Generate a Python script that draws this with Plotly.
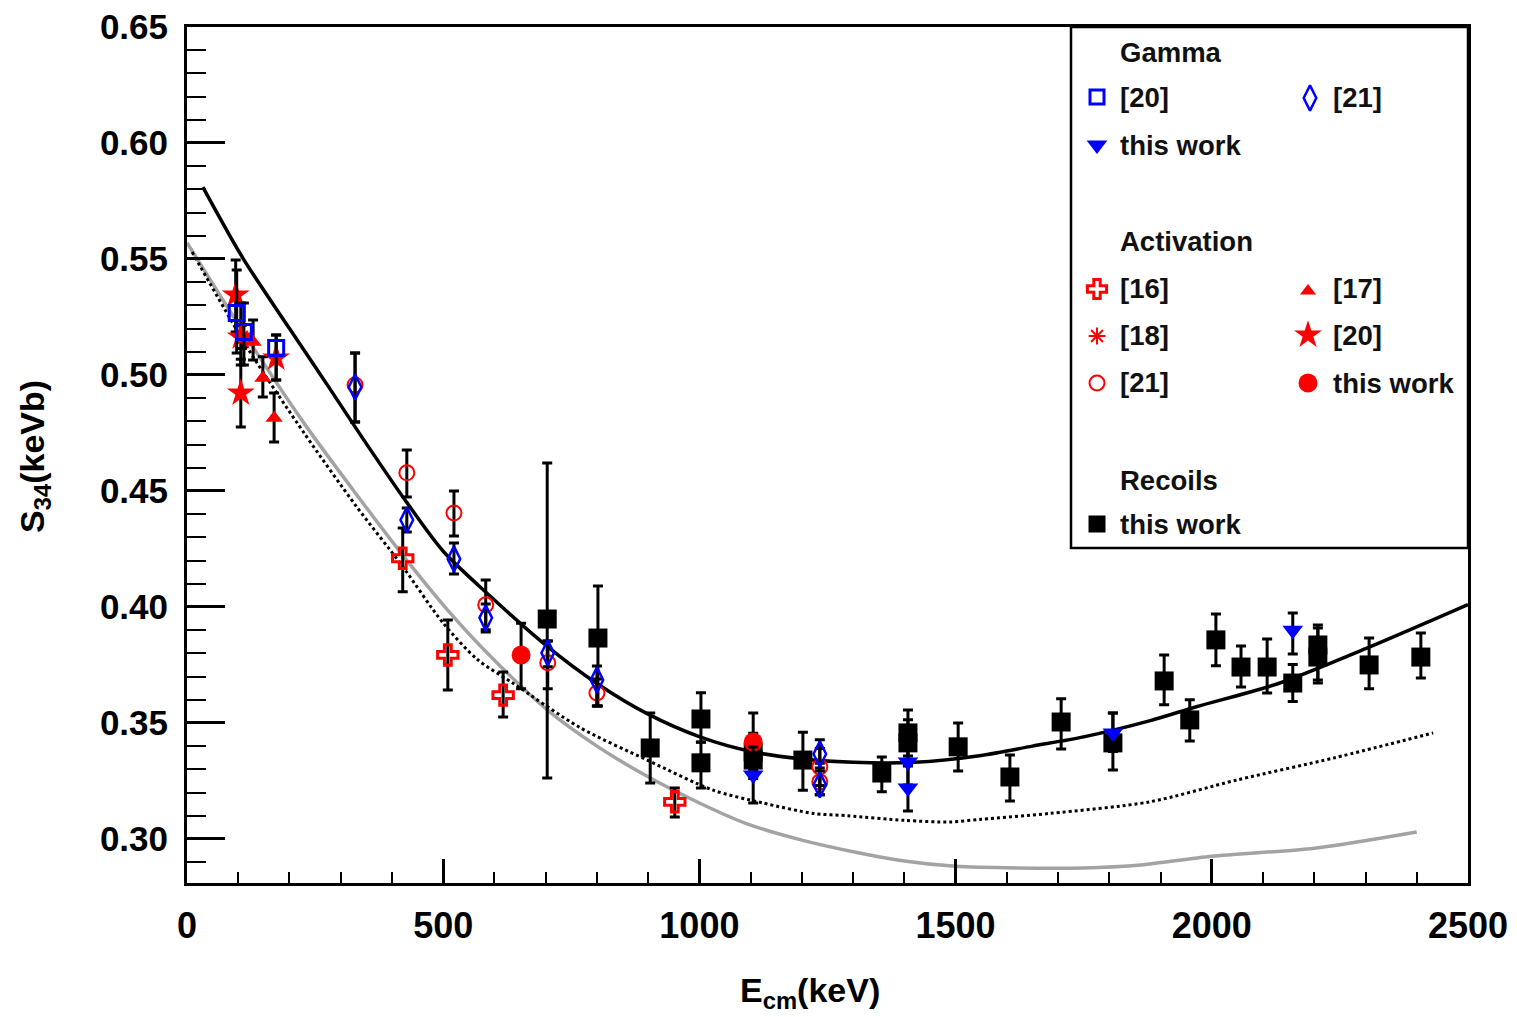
import plotly.graph_objects as go

# ---------------- data ----------------
# theory curves
fit_E = [31, 109, 200, 279, 342, 429, 500, 585, 703, 800, 898, 1001, 1105, 1200,
         1300, 1420, 1550, 1650, 1750, 1880, 1970, 2130, 2300, 2500]
fit_S = [0.581, 0.5504, 0.520, 0.494, 0.473, 0.445, 0.424, 0.406, 0.383, 0.367,
         0.354, 0.344, 0.3375, 0.3345, 0.333, 0.333, 0.336, 0.340, 0.344, 0.351, 0.357,
         0.367, 0.382, 0.401]

gray_E = [0, 120, 230, 330, 419, 507, 585, 703, 800, 898, 1000, 1093, 1200, 1300,
          1400, 1500, 1620, 1750, 1850, 2000, 2200, 2400]
gray_S = [0.557, 0.515, 0.4787, 0.4487, 0.4229, 0.3991, 0.3804, 0.3556, 0.340,
          0.327, 0.3155, 0.3065, 0.2995, 0.2945, 0.2905, 0.2882, 0.2875, 0.2875, 0.2885,
          0.2925, 0.2960, 0.3030]

dot_E = [10, 120, 230, 330, 419, 500, 566, 637, 767, 898, 1027, 1124, 1222, 1290, 1400,
         1489, 1550, 1684, 1879, 2049, 2240, 2432]
dot_S = [0.553, 0.511, 0.4745, 0.4435, 0.418, 0.393, 0.3775, 0.367, 0.348, 0.334, 0.321,
         0.3155, 0.311, 0.3100, 0.3080, 0.3073, 0.3085, 0.311, 0.316, 0.3254, 0.335, 0.3457]

# Gamma [20]
g20_E = [97, 111, 174]
g20_S = [0.5267, 0.5185, 0.5116]
g20_up = [0.0186, 0.0125, 0.0056]
g20_dn = [0.0172, 0.0142, 0.0138]

# Gamma [21]
g21_E = [328, 429, 521, 583, 704, 800, 1235, 1235]
g21_S = [0.4948, 0.4375, 0.4207, 0.3953, 0.3802, 0.3685, 0.3366, 0.3233]
g21_up = [0.0147, 0.0052, 0.0069, 0.0060, 0.0051, 0.0060, 0.0061, 0.0060]
g21_dn = [0.0151, 0.0052, 0.0065, 0.0061, 0.0060, 0.0112, 0.0060, 0.0043]

# Gamma this work
gtw_E = [1105, 1407, 1407, 1807, 2158]
gtw_S = [0.3276, 0.3332, 0.3220, 0.3457, 0.3900]
gtw_up = [0.0120, 0.0100, 0.0100, 0.0086, 0.0074]
gtw_dn = [0.0121, 0.0100, 0.0100, 0.0080, 0.0103]

# Activation [16]
a16_E = [421, 509, 617, 952]
a16_S = [0.4210, 0.3793, 0.3620, 0.3160]
a16_up = [0.0130, 0.0151, 0.0100, 0.0060]
a16_dn = [0.0145, 0.0151, 0.0094, 0.0065]

# Activation [17]
a17_E = [129, 148, 170]
a17_S = [0.5142, 0.4987, 0.4815]
a17_up = [0.0095, 0.0091, 0.0107]
a17_dn = [0.0077, 0.0082, 0.0104]

# Activation [18]
a18_E = [107]
a18_S = [0.5164]
a18_up = [0.0050]
a18_dn = [0.0050]

# Activation [20]
a20_E = [95, 105, 105, 174]
a20_S = [0.5345, 0.5164, 0.4922, 0.5073]
a20_up = [0.0151, 0.0146, 0.0146, 0.0099]
a20_dn = [0.0160, 0.0121, 0.0146, 0.0095]

# Activation [21]
a21_E = [328, 429, 521, 583, 704, 800, 1235, 1235]
a21_S = [0.4957, 0.4578, 0.4405, 0.4009, 0.3759, 0.3629, 0.3310, 0.3246]
a21_up = [0.0138, 0.0099, 0.0095, 0.0107, 0.0094, 0.0060, 0.0080, 0.0080]
a21_dn = [0.0160, 0.0104, 0.0099, 0.0107, 0.0112, 0.0056, 0.0080, 0.0056]

# Activation this work
atw_E = [652, 1105]
atw_S = [0.3793, 0.3418]
atw_up = [0.0137, 0.0125]
atw_dn = [0.0146, 0.0080]

# Recoils this work
rec_E = [703, 802, 904, 1003, 1003, 1105, 1105, 1202, 1356, 1407, 1407, 1505, 1606,
         1706, 1807, 1907, 1957, 2008, 2057, 2108, 2158, 2207, 2207, 2307, 2408]
rec_S = [0.3948, 0.3866, 0.3392, 0.3517, 0.3328, 0.3375, 0.3340, 0.3340, 0.3284,
         0.3457, 0.3414, 0.3397, 0.3267, 0.3504, 0.3414, 0.3681, 0.3513, 0.3858,
         0.3741, 0.3741, 0.3672, 0.3836, 0.3784, 0.3750, 0.3784]
rec_up = [0.0672, 0.0224, 0.0151, 0.0113, 0.0090, 0.0080, 0.0080, 0.0120, 0.0069,
          0.0099, 0.0100, 0.0103, 0.0095, 0.0100, 0.0129, 0.0112, 0.0087, 0.0112,
          0.0091, 0.0121, 0.0080, 0.0086, 0.0125, 0.0116, 0.0104]
rec_dn = [0.0685, 0.0293, 0.0151, 0.0100, 0.0108, 0.0080, 0.0080, 0.0130, 0.0081,
          0.0100, 0.0100, 0.0104, 0.0103, 0.0116, 0.0117, 0.0103, 0.0091, 0.0112,
          0.0086, 0.0112, 0.0080, 0.0151, 0.0112, 0.0103, 0.0090]

x_ticks = [0, 500, 1000, 1500, 2000, 2500]
y_ticks = [0.30, 0.35, 0.40, 0.45, 0.50, 0.55, 0.60, 0.65]

# ---------------- style ----------------
FONT = "Liberation Sans, Arial, sans-serif"
RED = "#ff0000"
BLUE = "#0000ff"
W, H = 1517, 1017
L, R, T, B = 187, 1468, 27, 883

fig = go.Figure()

fig.add_trace(go.Scatter(x=gray_E, y=gray_S, mode="lines", line=dict(color="#a3a3a3", width=3.5, shape="spline", smoothing=0.8), hoverinfo="skip"))
fig.add_trace(go.Scatter(x=dot_E, y=dot_S, mode="lines", line=dict(color="black", width=3, dash="dot", shape="spline", smoothing=0.8), hoverinfo="skip"))
fig.add_trace(go.Scatter(x=fit_E, y=fit_S, mode="lines", line=dict(color="black", width=3.5, shape="spline", smoothing=0.8), hoverinfo="skip"))


def pts(E, S, up, dn, symbol, color, size, lw=0, lc=None):
    return go.Scatter(
        x=E, y=S, mode="markers",
        marker=dict(symbol=symbol, color=color, size=size,
                    line=dict(width=lw, color=lc if lc else color)),
        error_y=dict(type="data", symmetric=False, array=up, arrayminus=dn,
                     color="black", thickness=3, width=5),
    )


fig.add_trace(pts(rec_E, rec_S, rec_up, rec_dn, "square", "black", 19))
fig.add_trace(pts(a16_E, a16_S, a16_up, a16_dn, "cross-open", RED, 17, 3))
fig.add_trace(pts(a17_E, a17_S, a17_up, a17_dn, "triangle-up", RED, 15))
fig.add_trace(pts(a18_E, a18_S, a18_up, a18_dn, "asterisk-open", RED, 14, 2))
fig.add_trace(pts(a21_E, a21_S, a21_up, a21_dn, "circle-open", RED, 15, 2))
fig.add_trace(pts(atw_E, atw_S, atw_up, atw_dn, "circle", RED, 19))
fig.add_trace(pts(a20_E, a20_S, a20_up, a20_dn, "star", RED, 21))
fig.add_trace(pts(g20_E, g20_S, g20_up, g20_dn, "square-open", BLUE, 15, 3))
fig.add_trace(pts(g21_E, g21_S, g21_up, g21_dn, "diamond-tall-open", BLUE, 18, 2.5))
fig.add_trace(pts(gtw_E, gtw_S, gtw_up, gtw_dn, "triangle-down", BLUE, 18))

# ---------------- legend (drawn in a pixel-space overlay axis) ----------------
leg_items = [
    # (x, y, symbol, color, size, linewidth)
    (1097, 97, "square-open", BLUE, 14, 3),
    (1310, 98, "diamond-tall-open", BLUE, 18, 2.5),
    (1097, 145, "triangle-down", BLUE, 18, 0),
    (1097, 289, "cross-open", RED, 16, 3),
    (1308, 291, "triangle-up", RED, 14, 0),
    (1097, 336, "asterisk-open", RED, 14, 2),
    (1308, 335, "star", RED, 21, 0),
    (1097, 383, "circle-open", RED, 15, 2),
    (1308, 383, "circle", RED, 19, 0),
    (1097, 524, "square", "black", 17, 0),
]
for (lx, ly, sym, col, sz, lw) in leg_items:
    fig.add_trace(go.Scatter(x=[lx], y=[ly], xaxis="x2", yaxis="y2", mode="markers",
                             marker=dict(symbol=sym, color=col, size=sz, line=dict(width=lw, color=col)),
                             hoverinfo="skip"))

leg_texts = [
    (1118, 52, "Gamma"), (1118, 97, "[20]"), (1331, 97, "[21]"), (1118, 145, "this work"),
    (1118, 241, "Activation"), (1118, 288, "[16]"), (1331, 288, "[17]"),
    (1118, 335, "[18]"), (1331, 335, "[20]"), (1118, 382, "[21]"), (1331, 383, "this work"),
    (1118, 480, "Recoils"), (1118, 524, "this work"),
]
annotations = []
for (tx, ty, txt) in leg_texts:
    annotations.append(dict(x=tx, y=ty, xref="x2", yref="y2", text="<b>" + txt + "</b>",
                            showarrow=False, xanchor="left", yanchor="middle",
                            font=dict(family=FONT, size=27.5, color="#111111")))

# axis titles
annotations.append(dict(x=(810 - L) / (R - L), y=(B - 993) / (B - T), xref="paper", yref="paper",
                        text="<b>E<sub>cm</sub>(keV)</b>", showarrow=False,
                        xanchor="center", yanchor="middle",
                        font=dict(family=FONT, size=34, color="black")))
annotations.append(dict(x=(35 - L) / (R - L), y=(B - 457) / (B - T), xref="paper", yref="paper",
                        text="<b>S<sub>34</sub>(keVb)</b>", showarrow=False, textangle=-90,
                        xanchor="center", yanchor="middle",
                        font=dict(family=FONT, size=34, color="black")))

shapes = [dict(type="rect", xref="x2", yref="y2", x0=1071, x1=1468, y0=27, y1=548,
               line=dict(color="black", width=2.5), fillcolor="white", layer="below")]

fig.update_layout(
    width=W, height=H,
    margin=dict(l=L, r=W - R, t=T, b=H - B, autoexpand=False),
    paper_bgcolor="white", plot_bgcolor="white",
    showlegend=False,
    font=dict(family=FONT, color="black"),
    annotations=annotations,
    shapes=shapes,
    xaxis=dict(range=[0, 2500], tickvals=x_ticks, ticktext=[str(v) for v in x_ticks],
               ticks="inside", ticklen=24, tickwidth=2.5, tickcolor="black",
               minor=dict(dtick=100, tick0=0, ticks="inside", ticklen=11, tickwidth=2, tickcolor="black"),
               showline=True, linewidth=3, linecolor="black", mirror=True, automargin=False,
               showgrid=False, zeroline=False, ticklabelstandoff=9,
               tickfont=dict(family=FONT, size=36, color="black", weight="bold")),
    yaxis=dict(range=[0.281, 0.65], tickvals=y_ticks, ticktext=["%.2f" % v for v in y_ticks],
               ticks="inside", ticklen=38, tickwidth=2.5, tickcolor="black",
               minor=dict(dtick=0.01, tick0=0.30, ticks="inside", ticklen=19, tickwidth=2, tickcolor="black"),
               showline=True, linewidth=3, linecolor="black", mirror=True, automargin=False,
               showgrid=False, zeroline=False, ticklabelstandoff=9,
               tickfont=dict(family=FONT, size=35, color="black", weight="bold")),
    xaxis2=dict(overlaying="x", range=[L, R], visible=False, anchor="y2", automargin=False),
    yaxis2=dict(overlaying="y", range=[B, T], visible=False, anchor="x2", automargin=False),
)

fig.write_html("out.html")
